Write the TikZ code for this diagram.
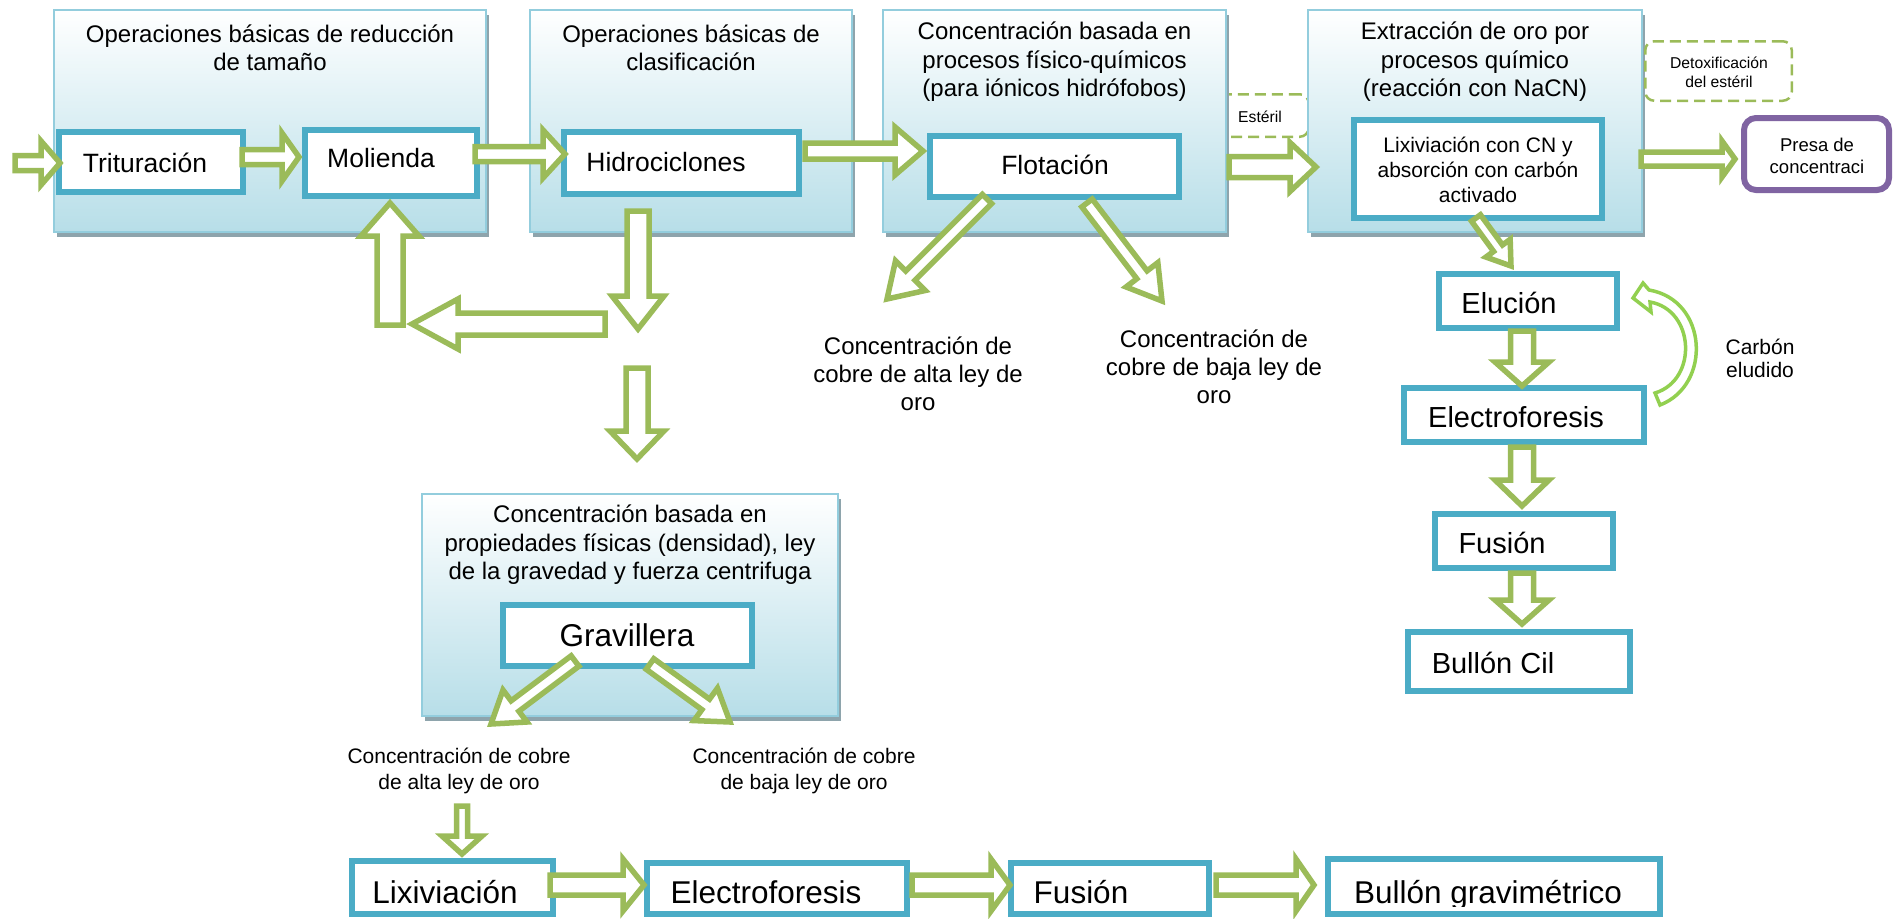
\documentclass[tikz,border=0pt]{standalone}
\usepackage{fontspec}
\setmainfont{Liberation Sans}
\usetikzlibrary{calc,shadows}
\definecolor{cteal}{RGB}{75,172,198}
\definecolor{cgrpb}{RGB}{147,205,221}
\definecolor{cgrpf}{RGB}{183,222,232}
\definecolor{cgrpm}{RGB}{226,240,245}
\definecolor{cshadow}{RGB}{142,164,172}
\definecolor{cgreen}{RGB}{155,187,89}
\definecolor{cbright}{RGB}{146,208,80}
\definecolor{cpurple}{RGB}{128,100,162}
\newcommand\fs[2]{\fontsize{#1}{#2}\selectfont}
% block arrow: [style]{tail}{tip}{shaft half width}{head half width}{head length}
\newcommand\barrow[6][]{%
  \coordinate (bh) at ($(#3)!#6!(#2)$);
  \draw[barrowst,#1] ($(#2)!#4!90:(#3)$) -- ($(bh)!#4!90:(#3)$) -- ($(bh)!#5!90:(#3)$) -- (#3)
    -- ($(bh)!#5!-90:(#3)$) -- ($(bh)!#4!-90:(#3)$) -- ($(#2)!#4!-90:(#3)$) -- cycle;}
\begin{document}
\begin{tikzpicture}[x=1pt,y=-1pt,
  grp/.style={draw=cgrpb, line width=2pt, top color=white, middle color=cgrpm, bottom color=cgrpf, inner sep=0pt,
    drop shadow={shadow xshift=3pt, shadow yshift=-5pt, fill=cshadow, opacity=1}},
  gtitle/.style={font=\fs{24}{28.5}, align=center, inner sep=0pt},
  ibox/.style={draw=cteal, line width=6pt, fill=white, inner sep=0pt},
  btext/.style={font=\fs{26.5}{30}, inner sep=0pt},
  rtext/.style={font=\fs{29}{33}, inner sep=0pt},
  bottext/.style={font=\fs{31.5}{35}, inner sep=0pt, anchor=base},
  dbox/.style={draw=cgreen, line width=2.5pt, dash pattern=on 11pt off 6pt, rounded corners=9pt, inner sep=0pt},
  lbl/.style={font=\fs{24}{28}, align=center, inner sep=0pt},
  lbls/.style={font=\fs{21}{26}, align=center, inner sep=0pt},
  barrowst/.style={draw=cgreen, line width=5.5pt, fill=white, line join=miter}
]
\useasboundingbox (0,0) rectangle (1894,918);

% ---------- group boxes ----------
\node[grp, minimum width=432, minimum height=222] (g1) at (270,121) {};
\node[grp, minimum width=322, minimum height=222] (g2) at (691,121) {};
\node[dbox, minimum width=102.5, minimum height=42.5] (esterilbox) at (1257.5,115.5) {};
\node[grp, minimum width=343, minimum height=222] (g3) at (1054.5,121) {};
\node[grp, minimum width=334, minimum height=222] (g4) at (1475,121) {};
\node[dbox, minimum width=146.5, minimum height=59.5] (detox) at (1718.5,71) {};
\node[grp, minimum width=416, minimum height=222] (g5) at (630,605) {};

\node[gtitle] (g1t) at (270,48) {Operaciones básicas de reducción\\de tamaño};
\node[gtitle] (g2t) at (691,48) {Operaciones básicas de\\clasificación};
\node[gtitle] (g3t) at (1054.5,62) {Concentración basada en\\procesos físico-químicos\\(para iónicos hidrófobos)};
\node[gtitle] (g4t) at (1475,62) {Extracción de oro por\\procesos químico\\(reacción con NaCN)};
\node[gtitle] (g5t) at (630,545) {Concentración basada en\\propiedades físicas (densidad), ley\\de la gravedad y fuerza centrifuga};

\node[font=\fs{15.7}{19}, inner sep=0pt] (esteril) at (1260,117) {Estéril};
\node[font=\fs{15.7}{19}, align=center, inner sep=0pt] (detoxt) at (1719,72.5) {Detoxificación\\del estéril};

% ---------- process boxes ----------
\node[ibox, minimum width=184, minimum height=60] (trit) at (151,162) {};
\node[ibox, minimum width=172, minimum height=66] (mol) at (391,163) {};
\node[ibox, minimum width=235, minimum height=62] (hidro) at (681.5,163) {};
\node[ibox, minimum width=249, minimum height=61] (flot) at (1054.5,166.5) {};
\node[ibox, minimum width=248, minimum height=98] (lixcn) at (1478,169) {};
\node[draw=cpurple, line width=6pt, rounded corners=12pt, fill=white, minimum width=145, minimum height=72, inner sep=0pt] (presa) at (1816.5,154) {};
\node[ibox, minimum width=178, minimum height=54] (eluc) at (1528,301) {};
\node[ibox, minimum width=240, minimum height=54] (electr) at (1524,415) {};
\node[ibox, minimum width=178, minimum height=54] (fusr) at (1524,541) {};
\node[ibox, minimum width=222, minimum height=59] (bullc) at (1519,661.5) {};
\node[ibox, minimum width=249, minimum height=61] (grav) at (627.5,635.5) {};
\node[ibox, minimum width=201, minimum height=53] (lixb) at (452.5,887.5) {};
\node[ibox, minimum width=260, minimum height=51] (elecb) at (777,888.5) {};
\node[ibox, minimum width=198, minimum height=51] (fusb) at (1110,888.5) {};
\node[ibox, minimum width=332, minimum height=55] (bullg) at (1494,886.5) {};

% ---------- texts in boxes ----------
\node[btext] (tritt) at (145,163) {Trituración};
\node[btext] (molt) at (381,158) {Molienda};
\node[btext] (hidrot) at (666,162) {Hidrociclones};
\node[btext] (flott) at (1055,165) {Flotación};
\node[font=\fs{21}{25}, align=center, inner sep=0pt] (lixcnt) at (1478,170) {Lixiviación con CN y\\absorción con carbón\\activado};
\node[font=\fs{18.5}{22}, align=center, inner sep=0pt] (presat) at (1817,156) {Presa de\\concentraci};
\node[rtext] (eluct) at (1509,303) {Elución};
\node[rtext] (electrt) at (1516,417) {Electroforesis};
\node[rtext] (fusrt) at (1502,543) {Fusión};
\node[rtext] (bullct) at (1493,663) {Bullón Cil};
\node[font=\fs{31.5}{35}, inner sep=0pt] (gravt) at (627,635) {Gravillera};
\begin{scope}
\clip (0,0) rectangle (1894,906);
\node[bottext] (lixbt) at (445,903) {Lixiviación};
\node[bottext] (elecbt) at (766,903) {Electroforesis};
\node[bottext] (fusbt) at (1081,903) {Fusión};
\node[bottext] (bullgt) at (1488,903) {Bullón gravimétrico};
\end{scope}

% ---------- free labels ----------
\node[lbl] (altaf) at (918,374) {Concentración de\\cobre de alta ley de\\oro};
\node[lbl] (bajaf) at (1214,366.5) {Concentración de\\cobre de baja ley de\\oro};
\node[font=\fs{21}{23.5}, align=center, inner sep=0pt] (carbon) at (1760,358.5) {Carbón\\eludido};
\node[lbls] (altag) at (459,771) {Concentración de cobre\\de alta ley de oro};
\node[lbls] (bajag) at (804,771) {Concentración de cobre\\de baja ley de oro};

% ---------- arrow end points ----------
\coordinate (a1s) at (15,163);   \coordinate (a1e) at (60,163);
\coordinate (a2s) at (242,157);  \coordinate (a2e) at (299,157);
\coordinate (a3s) at (475,154);  \coordinate (a3e) at (565,154);
\coordinate (a4s) at (805,151);  \coordinate (a4e) at (923,151);
\coordinate (a5s) at (1229,167); \coordinate (a5e) at (1316,167);
\coordinate (a6s) at (1641,159); \coordinate (a6e) at (1735,159);
\coordinate (a7s) at (390,325);  \coordinate (a7e) at (390,203);
\coordinate (a8s) at (605,324);  \coordinate (a8e) at (412,324);
\coordinate (a9s) at (638,211);  \coordinate (a9e) at (638,329);
\coordinate (a10s) at (637,368); \coordinate (a10e) at (637,459);
\coordinate (a11s) at (987,199); \coordinate (a11e) at (887,299);
\coordinate (a12s) at (1087,203);\coordinate (a12e) at (1162,301);
\coordinate (a13s) at (1476,218);\coordinate (a13e) at (1511,266);
\coordinate (a14s) at (1522,331);\coordinate (a14e) at (1522,386);
\coordinate (a15s) at (1522,447);\coordinate (a15e) at (1522,506);
\coordinate (a16s) at (1522,573);\coordinate (a16e) at (1522,624);
\coordinate (a17s) at (575,661); \coordinate (a17e) at (491,724);
\coordinate (a18s) at (650,664); \coordinate (a18e) at (730,722);
\coordinate (a19s) at (462,806); \coordinate (a19e) at (462,854);
\coordinate (a20s) at (550,885); \coordinate (a20e) at (644,885);
\coordinate (a21s) at (912,885); \coordinate (a21e) at (1010,885);
\coordinate (a22s) at (1216,885);\coordinate (a22e) at (1314,885);

% ---------- block arrows ----------
\barrow{a1s}{a1e}{7.5pt}{22pt}{19pt}
\barrow{a2s}{a2e}{7.5pt}{24pt}{17pt}
\barrow{a3s}{a3e}{7.5pt}{24pt}{22pt}
\barrow{a4s}{a4e}{8pt}{24pt}{28pt}
\barrow{a5s}{a5e}{10.5pt}{24.5pt}{26pt}
\barrow{a6s}{a6e}{7pt}{18pt}{13pt}
\barrow{a7s}{a7e}{13pt}{29pt}{33pt}
\barrow{a8s}{a8e}{11pt}{25pt}{46pt}
\barrow{a9s}{a9e}{11pt}{26pt}{33pt}
\barrow{a10s}{a10e}{11pt}{27pt}{28pt}
\barrow{a11s}{a11e}{6.5pt}{21pt}{33pt}
\barrow{a12s}{a12e}{6.5pt}{20pt}{33pt}
\barrow{a13s}{a13e}{5.5pt}{15pt}{22pt}
\barrow{a14s}{a14e}{11.5pt}{27pt}{24pt}
\barrow{a15s}{a15e}{11.5pt}{27pt}{26pt}
\barrow{a16s}{a16e}{11.5pt}{27pt}{24pt}
\barrow{a17s}{a17e}{6.5pt}{20pt}{30pt}
\barrow{a18s}{a18e}{6.5pt}{20pt}{30pt}
\barrow{a19s}{a19e}{5.5pt}{20pt}{18pt}
\barrow{a20s}{a20e}{10pt}{26pt}{21pt}
\barrow{a21s}{a21e}{10pt}{26pt}{19pt}
\barrow{a22s}{a22e}{10pt}{26pt}{18pt}

% ---------- curved arrow (carbón eludido) ----------
\draw[draw=cbright, line width=3.5pt, fill=white, line join=miter]
  (1660,405) .. controls (1712,385) and (1708,300) .. (1649,290) -- (1643,283) -- (1633,298)
  -- (1651,312) -- (1650,302) .. controls (1695,310) and (1698,380) .. (1655,393) -- cycle;
\end{tikzpicture}
\end{document}
